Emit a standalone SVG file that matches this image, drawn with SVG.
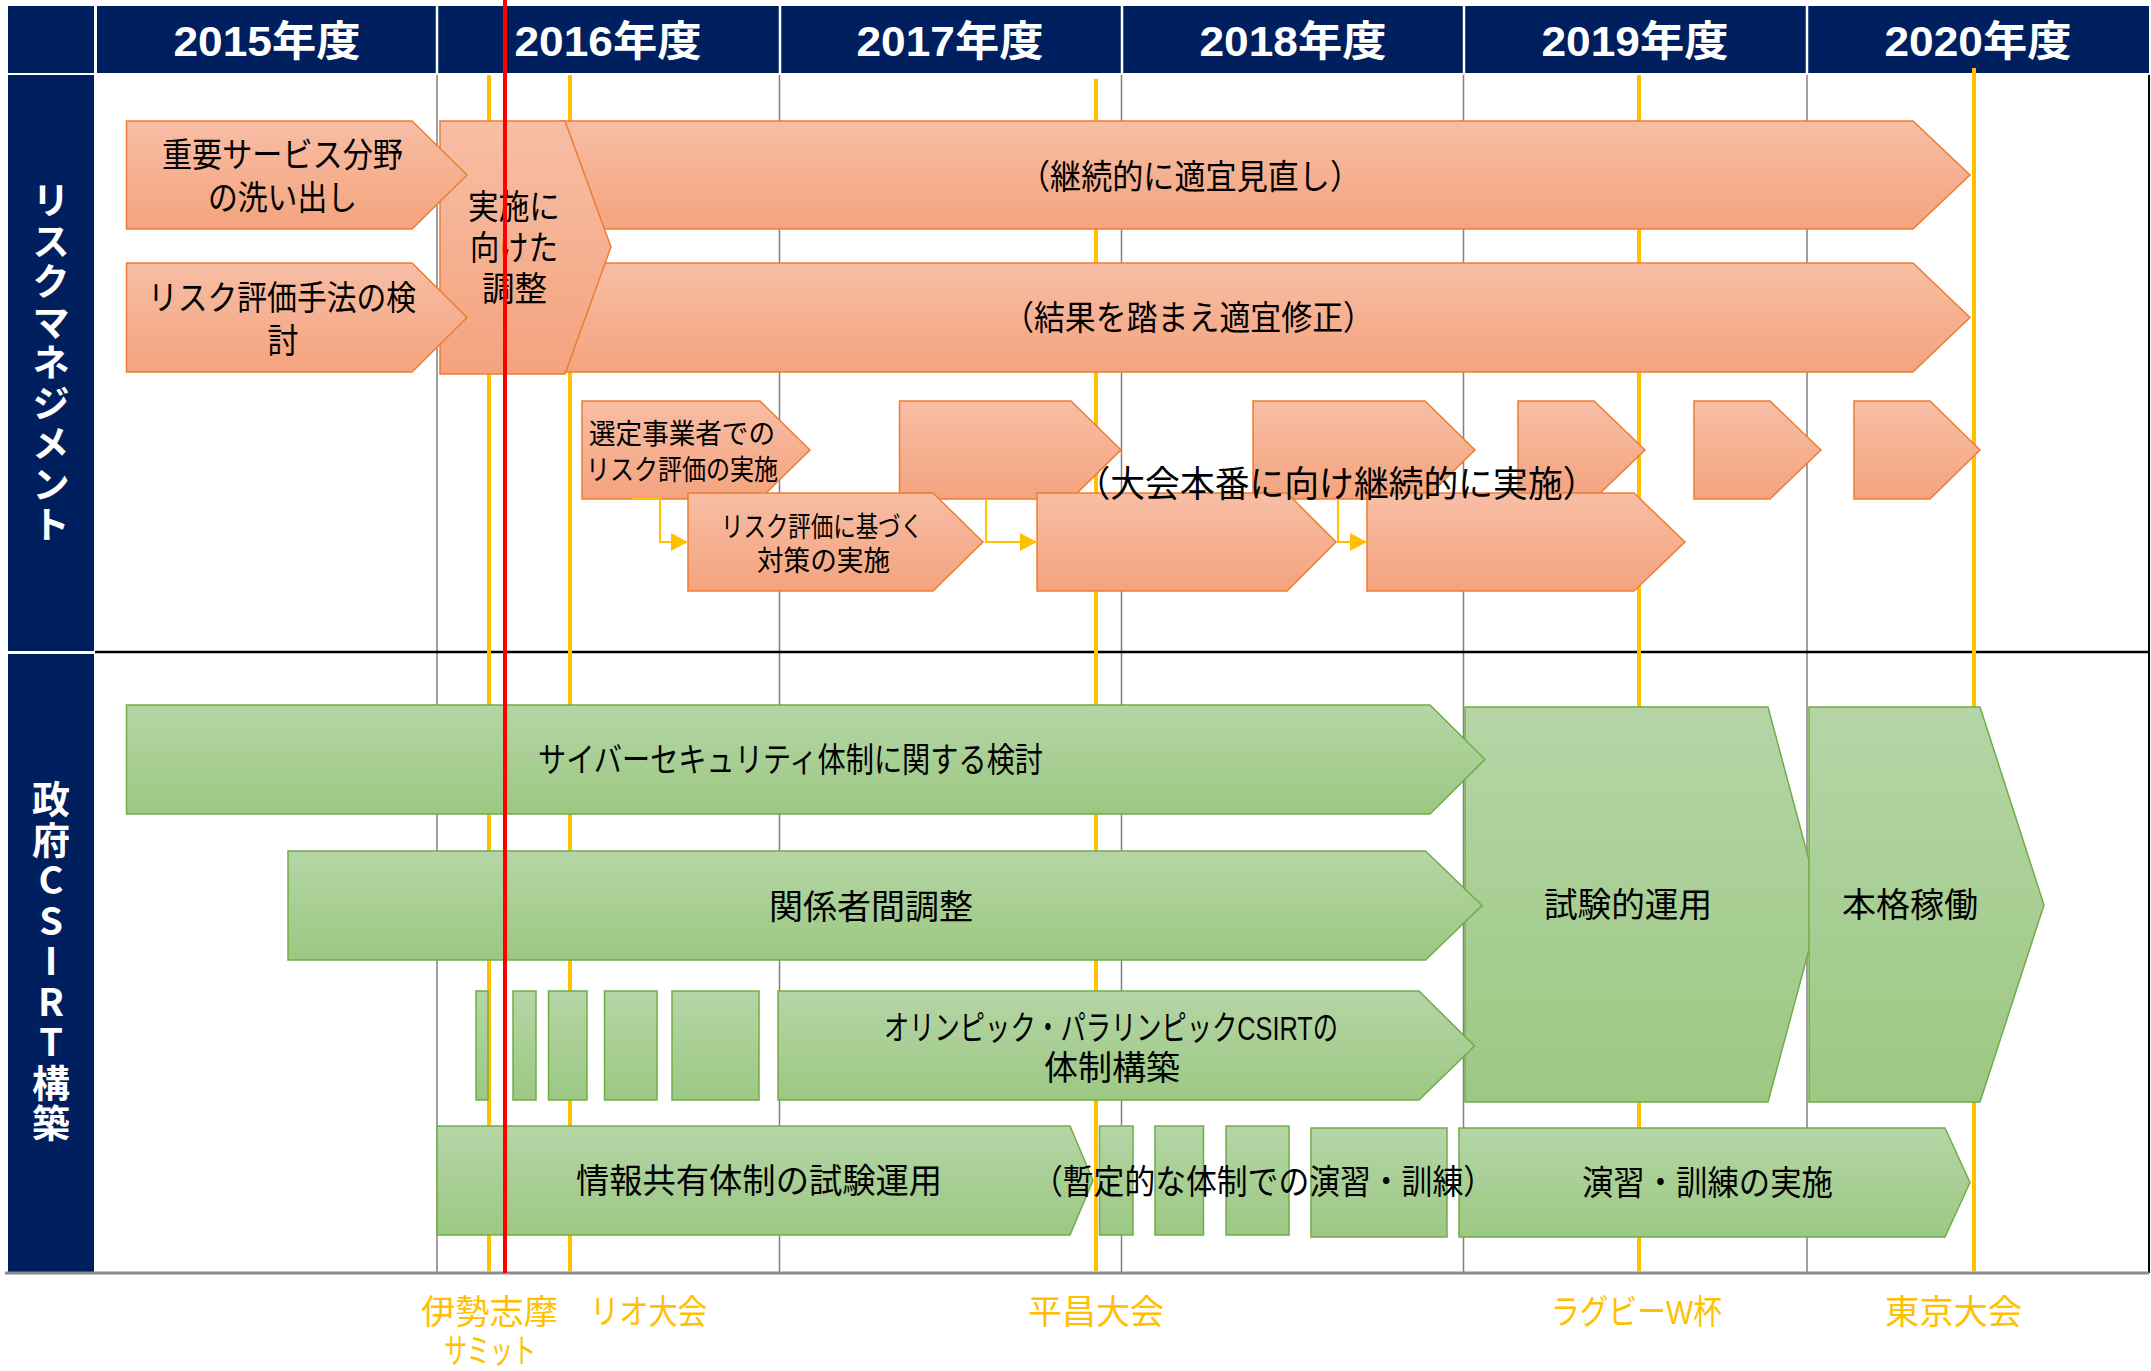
<svg xmlns="http://www.w3.org/2000/svg" width="2151" height="1371" viewBox="0 0 2151 1371">
<defs>
<linearGradient id="gO" x1="0" y1="0" x2="0" y2="1"><stop offset="0" stop-color="#F7BEA5"/><stop offset="1" stop-color="#F4A37E"/></linearGradient>
<linearGradient id="gG" x1="0" y1="0" x2="0" y2="1"><stop offset="0" stop-color="#B5D5A6"/><stop offset="1" stop-color="#9CC883"/></linearGradient>
<marker id="arr" markerUnits="userSpaceOnUse" markerWidth="18" markerHeight="18" refX="17" refY="9" orient="auto"><path d="M0,0 L17,9 L0,18 Z" fill="#FFC000"/></marker>
<style>
.o{fill:url(#gO);stroke:#ED7D31;stroke-width:1.5}
.g{fill:url(#gG);stroke:#70AD47;stroke-width:1.5}
.grid{stroke:#808080;stroke-width:1.5}
.ev{stroke:#FFC000;stroke-width:4}
.nv{fill:#001F5F}
.t{font-family:"Liberation Sans","Noto Sans CJK JP",sans-serif;font-size:34px;text-anchor:middle;dominant-baseline:central;fill:#000}
.ts{font-size:28px}
.hd{font-weight:bold;font-size:42px;fill:#fff}
.vl{font-family:"Noto Sans CJK JP","Noto Sans",sans-serif;font-weight:bold;font-size:38px;fill:#fff;writing-mode:vertical-rl;text-orientation:upright;letter-spacing:2.5px;dominant-baseline:central}
.el{fill:#FFC000}
.cn{fill:none;stroke:#FFC000;stroke-width:2}
</style>
</defs>
<rect width="2151" height="1371" fill="#fff"/>

<g id="header">
<rect class="nv" x="8" y="6" width="86" height="67"/>
<rect class="nv" x="97" y="6" width="2052" height="67"/>
<g stroke="#fff" stroke-width="2.5">
<line x1="437" y1="6" x2="437" y2="73"/><line x1="780" y1="6" x2="780" y2="73"/><line x1="1122" y1="6" x2="1122" y2="73"/><line x1="1464" y1="6" x2="1464" y2="73"/><line x1="1807" y1="6" x2="1807" y2="73"/>
</g>
<text class="t hd" x="267" y="41" textLength="187" lengthAdjust="spacingAndGlyphs">2015年度</text>
<text class="t hd" x="608" y="41" textLength="187" lengthAdjust="spacingAndGlyphs">2016年度</text>
<text class="t hd" x="950" y="41" textLength="187" lengthAdjust="spacingAndGlyphs">2017年度</text>
<text class="t hd" x="1293" y="41" textLength="187" lengthAdjust="spacingAndGlyphs">2018年度</text>
<text class="t hd" x="1635" y="41" textLength="187" lengthAdjust="spacingAndGlyphs">2019年度</text>
<text class="t hd" x="1978" y="41" textLength="187" lengthAdjust="spacingAndGlyphs">2020年度</text>
</g>

<g id="lane-risk">
<rect class="nv" x="8" y="75" width="86" height="576"/>
<text class="vl" x="51" y="181">リスクマネジメント</text>
</g>
<g id="lane-csirt">
<rect class="nv" x="8" y="654" width="86" height="618"/>
<text class="vl" x="51" y="780">政府CSIRT構築</text>
</g>

<g id="grid">
<line class="grid" x1="437" y1="75" x2="437" y2="1273"/>
<line class="grid" x1="779.5" y1="75" x2="779.5" y2="1273"/>
<line class="grid" x1="1121.5" y1="75" x2="1121.5" y2="1273"/>
<line class="grid" x1="1463.5" y1="75" x2="1463.5" y2="1273"/>
<line class="grid" x1="1807" y1="75" x2="1807" y2="1273"/>
<line x1="2149" y1="75" x2="2149" y2="1273" stroke="#000" stroke-width="2"/>
<line x1="95" y1="652" x2="2149" y2="652" stroke="#000" stroke-width="2.5"/>
<line x1="5" y1="1273" x2="2149" y2="1273" stroke="#8C8C8C" stroke-width="3"/>
</g>

<g id="events">
<line class="ev" x1="489" y1="75" x2="489" y2="1272"/>
<line class="ev" x1="570" y1="75" x2="570" y2="1272"/>
<line class="ev" x1="1096" y1="79" x2="1096" y2="1272"/>
<line class="ev" x1="1639" y1="75" x2="1639" y2="1272"/>
<line class="ev" x1="1974" y1="68" x2="1974" y2="1272"/>
<text class="t el" x="489.5" y="1312" textLength="137" lengthAdjust="spacingAndGlyphs">伊勢志摩</text>
<text class="t el" x="490" y="1351" textLength="92" lengthAdjust="spacingAndGlyphs">サミット</text>
<text class="t el" x="648.5" y="1312" textLength="117" lengthAdjust="spacingAndGlyphs">リオ大会</text>
<text class="t el" x="1096" y="1312" textLength="136" lengthAdjust="spacingAndGlyphs">平昌大会</text>
<text class="t el" x="1636.5" y="1312" textLength="171" lengthAdjust="spacingAndGlyphs">ラグビーW杯</text>
<text class="t el" x="1953.5" y="1312" textLength="137" lengthAdjust="spacingAndGlyphs">東京大会</text>
</g>

<g id="review">
<polygon class="o" points="560,121 1913,121 1970,175 1913,229 560,229"/>
<text class="t" x="1190" y="177" textLength="342" lengthAdjust="spacingAndGlyphs">（継続的に適宜見直し）</text>
</g>
<g id="revise">
<polygon class="o" points="560,263 1913,263 1970,317.5 1913,372 560,372"/>
<text class="t" x="1188.5" y="318" textLength="371" lengthAdjust="spacingAndGlyphs">（結果を踏まえ適宜修正）</text>
</g>
<g id="adjust">
<polygon class="o" points="440,121 565,121 611,247 565,374 440,374"/>
<text class="t" x="514" y="207" textLength="92" lengthAdjust="spacingAndGlyphs">実施に</text>
<text class="t" x="514" y="248" textLength="88" lengthAdjust="spacingAndGlyphs">向けた</text>
<text class="t" x="514.5" y="289" textLength="65" lengthAdjust="spacingAndGlyphs">調整</text>
</g>
<g id="identify">
<polygon class="o" points="126.5,121 412,121 467,175 412,229 126.5,229"/>
<text class="t" x="282.5" y="155" textLength="241" lengthAdjust="spacingAndGlyphs">重要サービス分野</text>
<text class="t" x="282.5" y="198" textLength="149" lengthAdjust="spacingAndGlyphs">の洗い出し</text>
</g>
<g id="method">
<polygon class="o" points="126.5,263 412,263 467,317.5 412,372 126.5,372"/>
<text class="t" x="282" y="298" textLength="268" lengthAdjust="spacingAndGlyphs">リスク評価手法の検</text>
<text class="t" x="283" y="341" textLength="31" lengthAdjust="spacingAndGlyphs">討</text>
</g>

<g id="assess1">
<polygon class="o" points="582,401 760,401 810,450 760,499 582,499"/>
<text class="t ts" x="682" y="434" textLength="186" lengthAdjust="spacingAndGlyphs">選定事業者での</text>
<text class="t ts" x="682" y="470" textLength="192" lengthAdjust="spacingAndGlyphs">リスク評価の実施</text>
</g>
<g id="assess2"><polygon class="o" points="899.5,401 1071,401 1121,450 1071,499 899.5,499"/></g>
<g id="assess3"><polygon class="o" points="1253,401 1425,401 1475,450 1425,499 1253,499"/></g>
<g id="assess4"><polygon class="o" points="1518,401 1594,401 1645,450 1594,499 1518,499"/></g>
<g id="assess5"><polygon class="o" points="1694,401 1770,401 1821,450 1770,499 1694,499"/></g>
<g id="assess6"><polygon class="o" points="1854,401 1930,401 1980,450 1930,499 1854,499"/></g>
<g id="measure1">
<polygon class="o" points="688,493 933,493 983,542 933,591 688,591"/>
<text class="t ts" x="822" y="527" textLength="202" lengthAdjust="spacingAndGlyphs">リスク評価に基づく</text>
<text class="t ts" x="823.5" y="561" textLength="133" lengthAdjust="spacingAndGlyphs">対策の実施</text>
</g>
<g id="measure2"><polygon class="o" points="1037,493 1287,493 1336,542 1287,591 1037,591"/></g>
<g id="measure3"><polygon class="o" points="1367,493 1634,493 1685,542 1634,591 1367,591"/></g>
<g id="continuous-label">
<text class="t" style="font-size:36px" x="1336.5" y="484" textLength="522" lengthAdjust="spacingAndGlyphs">（大会本番に向け継続的に実施）</text>
</g>

<g id="connectors">
<path class="cn" d="M632,499 H660 V542 H688" marker-end="url(#arr)"/>
<path class="cn" d="M986,499 V542 H1037" marker-end="url(#arr)"/>
<path class="cn" d="M1338,499 V542 H1367" marker-end="url(#arr)"/>
</g>

<g id="trial-op">
<polygon class="g" points="1465,707 1768,707 1821,905 1768,1102 1465,1102"/>
<text class="t" x="1628" y="905" textLength="168" lengthAdjust="spacingAndGlyphs">試験的運用</text>
</g>
<g id="full-op">
<polygon class="g" points="1809,707 1980,707 2044,905 1980,1102 1809,1102"/>
<text class="t" x="1910" y="905" textLength="136" lengthAdjust="spacingAndGlyphs">本格稼働</text>
</g>
<g id="cyber-study">
<polygon class="g" points="126.5,705 1430,705 1485,759.5 1430,814 126.5,814"/>
<text class="t" x="790.5" y="760" textLength="505" lengthAdjust="spacingAndGlyphs">サイバーセキュリティ体制に関する検討</text>
</g>
<g id="coordination">
<polygon class="g" points="288,851 1425.5,851 1482,905.5 1425.5,960 288,960"/>
<text class="t" x="871" y="907" textLength="204" lengthAdjust="spacingAndGlyphs">関係者間調整</text>
</g>
<g id="olympic-csirt">
<rect class="g" x="476" y="991" width="12" height="109"/>
<rect class="g" x="513" y="991" width="23" height="109"/>
<rect class="g" x="548.5" y="991" width="38.5" height="109"/>
<rect class="g" x="604.5" y="991" width="52.5" height="109"/>
<rect class="g" x="672" y="991" width="87" height="109"/>
<polygon class="g" points="778,991 1419,991 1474.5,1046 1419,1100 778,1100"/>
<text class="t" x="1111" y="1028" textLength="454" lengthAdjust="spacingAndGlyphs">オリンピック・パラリンピックCSIRTの</text>
<text class="t" x="1112" y="1068" textLength="136" lengthAdjust="spacingAndGlyphs">体制構築</text>
</g>
<g id="info-share">
<polygon class="g" points="437,1126 1070,1126 1093,1180.5 1070,1235 437,1235"/>
<text class="t" x="759" y="1181" textLength="366" lengthAdjust="spacingAndGlyphs">情報共有体制の試験運用</text>
</g>
<g id="drills">
<polygon class="g" points="1459,1128 1945,1128 1970,1182.5 1945,1237 1459,1237"/>
<text class="t" x="1707.5" y="1183" textLength="251" lengthAdjust="spacingAndGlyphs">演習・訓練の実施</text>
</g>
<g id="interim-drills">
<rect class="g" x="1099.5" y="1126" width="33.5" height="109"/>
<rect class="g" x="1155" y="1126" width="48.5" height="109"/>
<rect class="g" x="1226" y="1126" width="63" height="109"/>
<rect class="g" x="1311" y="1128" width="136" height="109"/>
<text class="t" x="1263" y="1182" textLength="462" lengthAdjust="spacingAndGlyphs">（暫定的な体制での演習・訓練）</text>
</g>

<g id="now-line">
<line x1="505" y1="0" x2="505" y2="1273" stroke="#FF0000" stroke-width="4"/>
</g>
</svg>
